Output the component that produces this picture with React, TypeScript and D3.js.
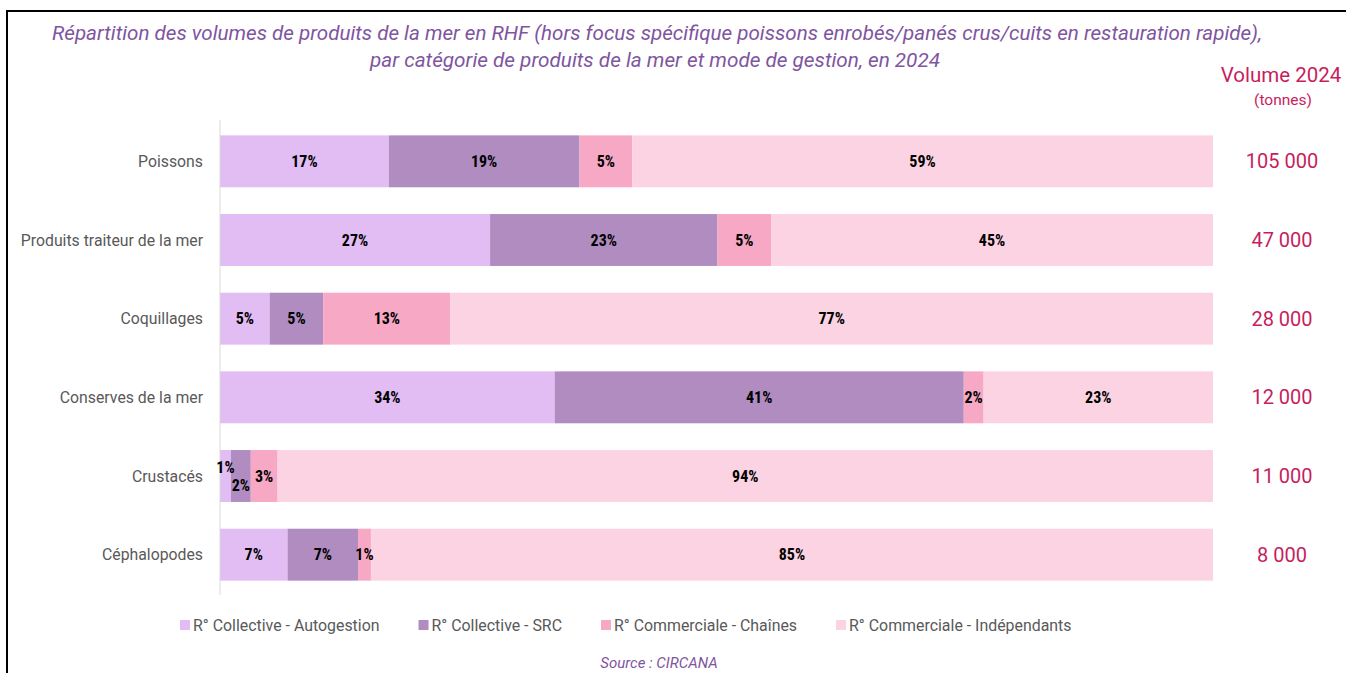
import { useEffect, useRef } from "react";
import * as d3 from "d3";

const categories = [
  "Poissons",
  "Produits traiteur de la mer",
  "Coquillages",
  "Conserves de la mer",
  "Crustacés",
  "Céphalopodes",
];

const seriesNames = [
  "R° Collective - Autogestion",
  "R° Collective - SRC",
  "R° Commerciale - Chaînes",
  "R° Commerciale - Indépendants",
];

// share of volume (%) per category, one array per mode de gestion
const autogestion = [17.0, 27.2, 5.0, 33.7, 1.1, 6.8];
const src = [19.2, 22.9, 5.4, 41.2, 2.0, 7.1];
const chaines = [5.3, 5.4, 12.8, 2.0, 2.7, 1.3];
const independants = [58.5, 44.5, 76.8, 23.1, 94.2, 84.8];

const volumes = ["105 000", "47 000", "28 000", "12 000", "11 000", "8 000"];

const colors = ["#E1BDF4", "#B08CC1", "#F7A8C5", "#FCD3E3"];

const COND_FONT = "'Roboto Condensed', 'Liberation Sans Narrow', Roboto, sans-serif";
const PLAIN_FONT = "Roboto, sans-serif";

export default function App() {
  const svgRef = useRef<SVGSVGElement>(null);

  useEffect(() => {
    if (!svgRef.current) return;
    const svg = d3.select(svgRef.current);
    svg.selectAll("*").remove();

    const rows = categories.map((c, i) => ({
      category: c,
      s0: autogestion[i],
      s1: src[i],
      s2: chaines[i],
      s3: independants[i],
    }));
    const keys = ["s0", "s1", "s2", "s3"];
    const stacked = d3.stack<any>().keys(keys)(rows);

    const x = d3.scaleLinear().domain([0, 100]).range([220, 1213]);
    const y = d3
      .scaleBand<string>()
      .domain(categories)
      .range([122, 594])
      .paddingInner(0.34)
      .paddingOuter(0.17);

    // frame
    svg
      .append("path")
      .attr("d", "M7,673 V11 H1346")
      .attr("fill", "none")
      .attr("stroke", "#000")
      .attr("stroke-width", 2);

    // title
    const title = svg
      .append("g")
      .attr("fill", "#7F559F")
      .style("font-family", PLAIN_FONT)
      .style("font-style", "italic")
      .style("font-size", "20.5px");
    title
      .append("text")
      .attr("x", 52)
      .attr("y", 40)
      .attr("textLength", 1210)
      .attr("lengthAdjust", "spacingAndGlyphs")
      .text(
        "Répartition des volumes de produits de la mer en RHF (hors focus spécifique poissons enrobés/panés crus/cuits en restauration rapide),"
      );
    title
      .append("text")
      .attr("x", 370)
      .attr("y", 67)
      .attr("textLength", 570)
      .attr("lengthAdjust", "spacingAndGlyphs")
      .text("par catégorie de produits de la mer et mode de gestion, en 2024");

    // bars
    const layers = svg
      .append("g")
      .selectAll("g")
      .data(stacked)
      .join("g")
      .attr("fill", (_d, i) => colors[i]);
    layers
      .selectAll("rect")
      .data((d) => d)
      .join("rect")
      .attr("x", (d) => x(d[0]))
      .attr("width", (d) => x(d[1]) - x(d[0]))
      .attr("y", (d) => y(d.data.category)!)
      .attr("height", y.bandwidth());

    // axis line
    svg
      .append("line")
      .attr("x1", x(0))
      .attr("x2", x(0))
      .attr("y1", 120)
      .attr("y2", 595)
      .attr("stroke", "#D9D9D9")
      .attr("stroke-width", 1);

    // value labels
    const labelShift = (cat: string, k: number) => {
      if (cat === "Crustacés" && k === 0) return -9;
      if (cat === "Crustacés" && k === 1) return 9;
      return 0;
    };
    stacked.forEach((layer, k) => {
      svg
        .append("g")
        .selectAll("text")
        .data(layer)
        .join("text")
        .attr("x", (d) => (x(d[0]) + x(d[1])) / 2)
        .attr(
          "y",
          (d) =>
            y(d.data.category)! + y.bandwidth() / 2 + 5.5 + labelShift(d.data.category, k)
        )
        .attr("text-anchor", "middle")
        .style("font-family", COND_FONT)
        .style("font-weight", "bold")
        .style("font-size", "16px")
        .attr("fill", "#000")
        .text((d) => `${Math.round(d[1] - d[0])}%`);
    });

    // category labels
    svg
      .append("g")
      .selectAll("text")
      .data(categories)
      .join("text")
      .attr("x", 203)
      .attr("y", (d) => y(d)! + y.bandwidth() / 2 + 5.5)
      .attr("text-anchor", "end")
      .style("font-family", PLAIN_FONT)
      .style("font-size", "15.8px")
      .attr("fill", "#595959")
      .text((d) => d);

    // volume column
    svg
      .append("text")
      .attr("x", 1281)
      .attr("y", 82)
      .attr("text-anchor", "middle")
      .style("font-family", PLAIN_FONT)
      .style("font-size", "20.5px")
      .attr("fill", "#C71E5E")
      .text("Volume 2024");
    svg
      .append("text")
      .attr("x", 1283)
      .attr("y", 105)
      .attr("text-anchor", "middle")
      .style("font-family", PLAIN_FONT)
      .style("font-size", "15.5px")
      .attr("fill", "#C71E5E")
      .text("(tonnes)");
    svg
      .append("g")
      .selectAll("text")
      .data(categories)
      .join("text")
      .attr("x", 1282)
      .attr("y", (d) => y(d)! + y.bandwidth() / 2 + 7)
      .attr("text-anchor", "middle")
      .style("font-family", PLAIN_FONT)
      .style("font-size", "20px")
      .attr("fill", "#C71E5E")
      .text((_d, i) => volumes[i]);

    // legend
    let lx = 180;
    seriesNames.forEach((name, i) => {
      svg
        .append("rect")
        .attr("x", lx)
        .attr("y", 620)
        .attr("width", 10)
        .attr("height", 10)
        .attr("fill", colors[i]);
      const t = svg
        .append("text")
        .attr("x", lx + 13)
        .attr("y", 631)
        .style("font-family", PLAIN_FONT)
        .style("font-size", "15.9px")
        .attr("fill", "#595959")
        .text(name);
      const w = (t.node() as SVGTextElement).getComputedTextLength();
      lx += 13 + w + 39;
    });

    // source
    svg
      .append("text")
      .attr("x", 659)
      .attr("y", 668)
      .attr("text-anchor", "middle")
      .style("font-family", PLAIN_FONT)
      .style("font-style", "italic")
      .style("font-size", "15px")
      .attr("fill", "#7F559F")
      .text("Source : CIRCANA");
  }, []);

  return (
    <div style={{ position: "absolute", left: 0, top: 0 }}>
      <svg ref={svgRef} width={1346} height={673} style={{ display: "block", background: "#fff" }} />
    </div>
  );
}
